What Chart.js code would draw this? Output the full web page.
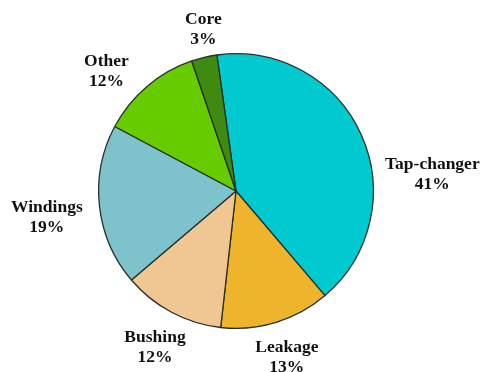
<!DOCTYPE html>
<html>
<head>
<meta charset="utf-8">
<script src="https://cdn.jsdelivr.net/npm/chart.js@4"></script>
<style>
  html, body { margin: 0; padding: 0; background: #fff; }
  #wrap { width: 483px; height: 372px; }
</style>
</head>
<body>
<div id="wrap"><canvas id="myChart"></canvas></div>
<script>
const labels = ['Tap-changer', 'Leakage', 'Bushing', 'Windings', 'Other', 'Core'];
const values = [41, 13, 12, 19, 12, 3];
const colors = ['#00c9cf', '#eeb52c', '#f0c692', '#7ec3cc', '#66cc00', '#3f8b12'];

// label placement: angle nudge (deg) and distance from centre, per slice
const labelNudge = [19.5, 0, -0.6, -1.8, -7, 2];
const labelDist = [197, 174, 176, 191, 176, 165];

const outsideLabels = {
    id: 'outsideLabels',
    afterDatasetsDraw(chart) {
        const ctx = chart.ctx;
        const meta = chart.getDatasetMeta(0);
        ctx.save();
        ctx.font = 'bold 17.5px "Liberation Serif", "Times New Roman", serif';
        ctx.fillStyle = '#111';
        ctx.textAlign = 'center';
        ctx.textBaseline = 'middle';
        meta.data.forEach((arc, i) => {
            const p = arc.getProps(['x', 'y', 'startAngle', 'endAngle'], true);
            const mid = (p.startAngle + p.endAngle) / 2 + labelNudge[i] * Math.PI / 180;
            const x = p.x + labelDist[i] * Math.cos(mid);
            const y = p.y + labelDist[i] * Math.sin(mid);
            ctx.fillText(labels[i], x, y - 10);
            ctx.fillText(values[i] + '%', x, y + 10);
        });
        ctx.restore();
    }
};

new Chart(document.getElementById('myChart'), {
    type: 'pie',
    data: {
        labels: labels,
        datasets: [{
            data: values,
            backgroundColor: colors,
            borderColor: '#27302a',
            borderWidth: 1.3
        }]
    },
    options: {
        responsive: true,
        maintainAspectRatio: false,
        animation: false,
        rotation: -8,
        layout: {
            padding: { top: 53, bottom: 43, left: 97, right: 108 }
        },
        plugins: {
            legend: { display: false },
            tooltip: { enabled: false }
        }
    },
    plugins: [outsideLabels]
});
</script>
</body>
</html>
